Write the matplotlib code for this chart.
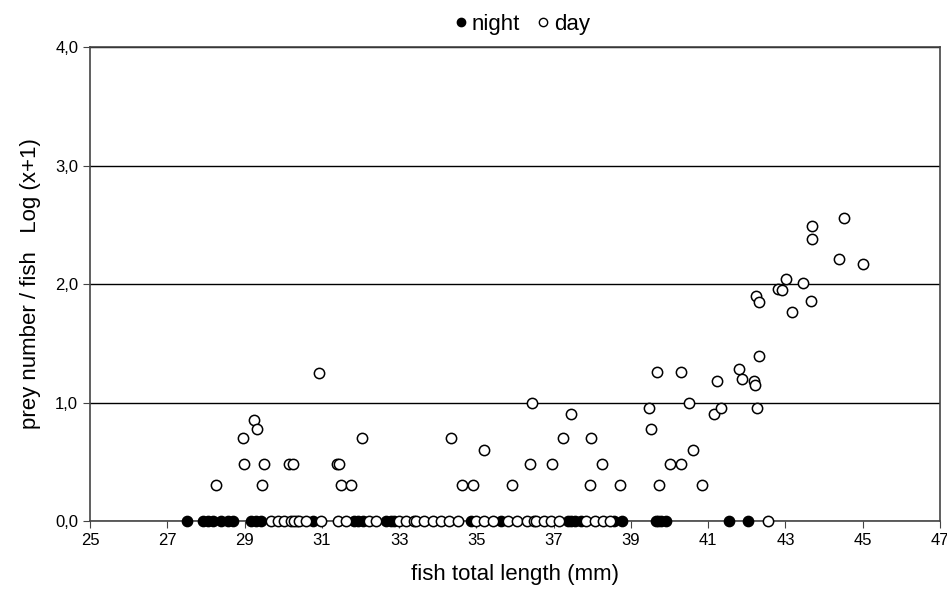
import matplotlib.pyplot as plt
from matplotlib.ticker import FuncFormatter
from matplotlib.lines import Line2D

plt.rcParams['font.family'] = ['Liberation Sans', 'DejaVu Sans']

# night samples (all empty stomachs)
night_len = [27.51, 27.92, 28.05, 28.18, 28.39, 28.57, 28.70, 29.17, 29.30, 29.43,
             30.78, 31.84, 31.95, 32.07, 32.67, 32.78, 32.88, 34.87, 35.65,
             37.38, 37.46, 37.56, 37.72, 38.55, 38.76, 39.66, 39.70, 39.79, 39.92,
             41.54, 42.04]
night_prey = [0.0] * len(night_len)

# day samples with zero prey
day_zero_len = [29.69, 29.86, 30.03, 30.21, 30.36, 30.29, 30.42, 30.60, 30.98,
                31.41, 31.63, 32.23, 32.40, 33.00, 33.19, 33.39, 33.45, 33.65,
                33.89, 34.09, 34.30, 34.53, 35.00, 35.20, 35.44, 35.83, 36.04,
                36.30, 36.50, 36.55, 36.76, 36.94, 37.15, 37.85, 38.06, 38.29,
                38.45, 42.55]

# day samples with prey
day_len = [28.26, 28.96, 28.99, 29.25, 29.33, 29.46, 29.51, 30.16, 30.26, 30.93,
           31.40, 31.45, 31.50, 31.76, 32.05, 34.35, 34.64, 34.92, 35.21, 35.91,
           36.40, 36.43, 36.97, 37.25, 37.44, 37.95, 37.98, 38.24, 38.73,
           39.46, 39.52, 39.68, 39.74, 40.01, 40.30, 40.30, 40.51, 40.60, 40.85,
           41.14, 41.23, 41.33, 41.80, 41.88, 42.18, 42.21, 42.25, 42.26, 42.31,
           42.31, 42.80, 42.91, 43.01, 43.16, 43.45, 43.65, 43.68, 43.69, 44.38,
           44.51, 45.00]
day_prey = [0.30, 0.70, 0.48, 0.85, 0.78, 0.30, 0.48, 0.48, 0.48, 1.25,
            0.48, 0.48, 0.30, 0.30, 0.70, 0.70, 0.30, 0.30, 0.60, 0.30,
            0.48, 1.00, 0.48, 0.70, 0.90, 0.30, 0.70, 0.48, 0.30,
            0.95, 0.78, 1.26, 0.30, 0.48, 1.26, 0.48, 1.00, 0.60, 0.30,
            0.90, 1.18, 0.95, 1.28, 1.20, 1.18, 1.15, 1.90, 0.95, 1.39,
            1.85, 1.96, 1.95, 2.04, 1.76, 2.01, 1.86, 2.38, 2.49, 2.21,
            2.56, 2.17]

fig = plt.figure(figsize=(9.47, 5.93), dpi=100)
ax = fig.add_axes([0.095, 0.1214, 0.8976, 0.7993])

ax.scatter(night_len, night_prey, s=55, c='black', edgecolors='black', linewidths=1, zorder=3, clip_on=False)
ax.scatter(day_zero_len, [0.0] * len(day_zero_len), s=55, c='white', edgecolors='black', linewidths=1.1, zorder=3, clip_on=False)
ax.scatter(day_len, day_prey, s=55, c='white', edgecolors='black', linewidths=1.1, zorder=3)

ax.set_xlim(25, 47)
ax.set_ylim(0, 4)
ax.set_xticks(range(25, 48, 2))
ax.set_yticks([0, 1, 2, 3, 4])
ax.yaxis.set_major_formatter(FuncFormatter(lambda v, p: f"{v:.1f}".replace('.', ',')))
ax.grid(axis='y', color='black', linewidth=1)
ax.set_axisbelow(True)
for sp in ax.spines.values():
    sp.set_color('#444444')
    sp.set_linewidth(1.2)
ax.tick_params(axis='both', labelsize=12, length=5, color='#444444')

ax.set_xlabel('fish total length (mm)', fontsize=16, labelpad=12)
ax.set_ylabel('prey number / fish   Log (x+1)', fontsize=16, labelpad=10)

handles = [Line2D([], [], marker='o', linestyle='', markerfacecolor='black', markeredgecolor='black', markersize=6),
           Line2D([], [], marker='o', linestyle='', markerfacecolor='white', markeredgecolor='black', markersize=6)]
fig.legend(handles, ['night', 'day'], loc='upper center', bbox_to_anchor=(0.55, 1.01), ncol=2,
           frameon=False, fontsize=16, handletextpad=0.1, columnspacing=0.6, handlelength=0.8)

fig.savefig('out.png', dpi=100)
